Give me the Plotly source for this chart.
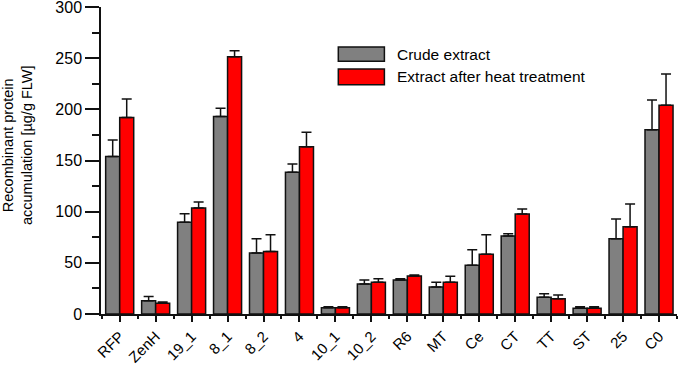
import plotly.graph_objects as go

categories = ["RFP", "ZenH", "19_1", "8_1", "8_2", "4", "10_1", "10_2", "R6", "MT",
              "Ce", "CT", "TT", "ST", "25", "C0"]
crude = [154, 13, 89.6, 193, 59.6, 138.5, 6, 29.3, 33.2, 26.4, 47.6, 76.2, 16.3, 5.5, 73.6, 180]
crude_err = [16, 4, 8.4, 8, 14, 8, 1.2, 3.9, 1.3, 4.6, 15.3, 2.3, 3.6, 1.5, 19.2, 29]
heat = [192, 10.5, 103.6, 251.5, 61, 163.5, 6, 31, 37.1, 31, 58.3, 97.7, 15, 5.5, 85.3, 204]
heat_err = [18, 1.2, 5.9, 5.8, 16.5, 14, 1, 3.5, 1, 5.8, 19.2, 4.9, 3.6, 1.5, 22.2, 30.5]
series_names = ["Crude extract", "Extract after heat treatment"]
series_colors = ["#808080", "#ff0000"]
y_title = "Recombinant protein<br>accumulation [µg/g FLW]"

x = list(range(len(categories)))
FONT = "Liberation Sans, Arial, sans-serif"

fig = go.Figure()
for name, vals, errs, col in [(series_names[0], crude, crude_err, series_colors[0]),
                              (series_names[1], heat, heat_err, series_colors[1])]:
    fig.add_trace(go.Bar(
        x=x, y=vals, name=name,
        marker=dict(color=col, line=dict(color="#111111", width=1.5)),
        error_y=dict(type="data", array=errs, arrayminus=[0] * len(errs),
                     symmetric=False, color="#111111", thickness=1.5, width=5),
        showlegend=False,
    ))

# manual legend (boxes + labels)
legend_x0, legend_x1 = 0.412, 0.492
legend_rows = [(0.823, 0.870), (0.747, 0.798)]
for (y0, y1), name, col in zip(legend_rows, series_names, series_colors):
    fig.add_shape(type="rect", xref="paper", yref="paper",
                  x0=legend_x0, x1=legend_x1, y0=y0, y1=y1,
                  fillcolor=col, line=dict(color="#111111", width=1.5))
    fig.add_annotation(xref="paper", yref="paper", x=0.510, y=(y0 + y1) / 2,
                       text=name, showarrow=False, xanchor="left", yanchor="middle",
                       font=dict(family=FONT, size=15.5, color="#000000"))

# y-axis title
fig.add_annotation(xref="paper", yref="paper", x=-0.146, y=0.55,
                   text=y_title, textangle=-90, showarrow=False,
                   xanchor="center", yanchor="middle",
                   font=dict(family=FONT, size=14.5, color="#000000"))

fig.update_layout(
    width=680, height=369,
    margin=dict(l=101, r=3, t=7, b=55),
    paper_bgcolor="white", plot_bgcolor="white",
    barmode="group", bargap=0.22, bargroupgap=0,
    font=dict(family=FONT, color="#000000"),
)
fig.update_xaxes(
    range=[-0.52, 15.5],
    tickmode="array", tickvals=x, ticktext=categories,
    tickangle=-45, tickfont=dict(size=15, family=FONT),
    ticks="outside", ticklen=6, tickwidth=1.5, tickcolor="#111111",
    minor=dict(tickmode="linear", tick0=0.5, dtick=1, ticks="outside",
               ticklen=3, tickwidth=1.5, tickcolor="#111111"),
    showline=True, linecolor="#111111", linewidth=1.5,
    showgrid=False, zeroline=False, automargin=False,
)
fig.update_yaxes(
    range=[0, 300], tickmode="linear", tick0=0, dtick=50,
    tickfont=dict(size=16, family=FONT), ticklabeloverflow="allow",
    ticks="outside", ticklen=14, tickwidth=1.5, tickcolor="#111111",
    minor=dict(tickmode="linear", tick0=25, dtick=50, ticks="outside",
               ticklen=7, tickwidth=1.5, tickcolor="#111111"),
    showline=True, linecolor="#111111", linewidth=1.5,
    showgrid=False, zeroline=False, automargin=False,
)

fig.write_html("out.html", config={"displayModeBar": False},
               post_script="document.body.style.margin='0';")
